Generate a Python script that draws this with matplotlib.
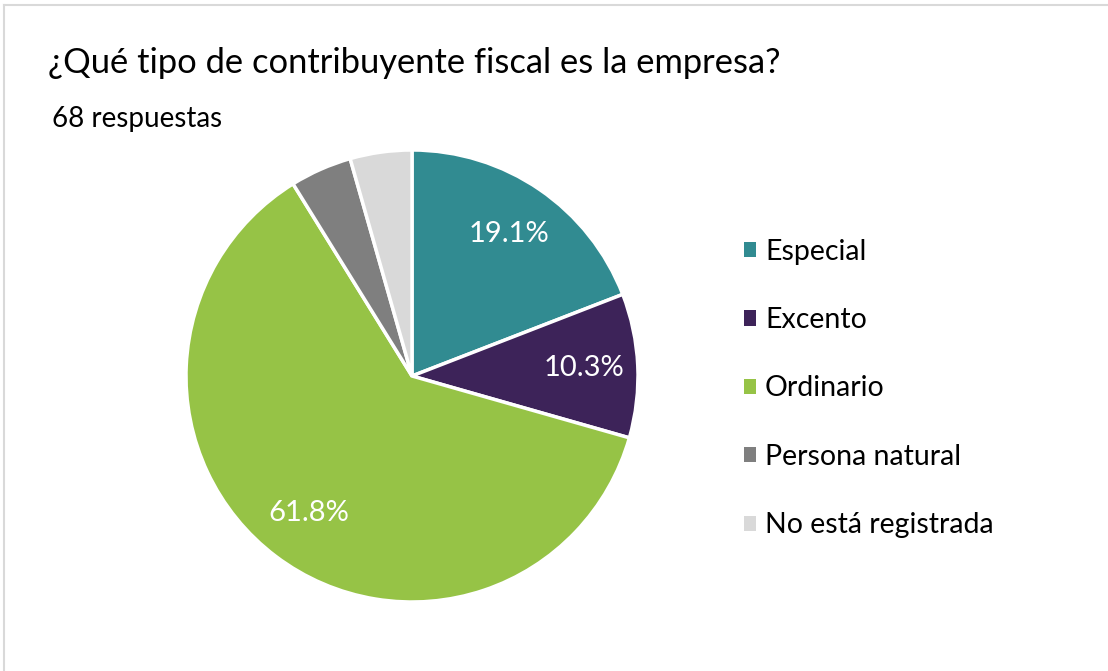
import matplotlib.pyplot as plt
from matplotlib.lines import Line2D

categorias = ['Especial', 'Excento', 'Ordinario', 'Persona natural', 'No está registrada']
respuestas = [13, 7, 42, 3, 3]
colores = ['#318B91', '#3D2359', '#96C346', '#7F7F7F', '#D9D9D9']
titulo = '¿Qué tipo de contribuyente fiscal es la empresa?'
subtitulo = '68 respuestas'

plt.rcParams['font.family'] = ['Lato', 'DejaVu Sans']

W, H = 1108, 671
fig = plt.figure(figsize=(W / 100, H / 100), dpi=100)
fig.patch.set_facecolor('white')

# light frame along the top and left edges
fig.add_artist(Line2D([4 / W, 4 / W], [0, 1 - 5 / H], color='#D9D9D9', lw=1.5))
fig.add_artist(Line2D([4 / W, 1], [1 - 5 / H, 1 - 5 / H], color='#D9D9D9', lw=1.5))

cx, cy, r = 412, 376, 226
ax = fig.add_axes([(cx - r) / W, (H - cy - r) / H, 2 * r / W, 2 * r / H])

def fmt(p):
    return f'{p:.1f}%' if p > 5 else ''

wedges, _, autotexts = ax.pie(respuestas, colors=colores, startangle=90, counterclock=False,
                              autopct=fmt, pctdistance=0.76,
                              wedgeprops=dict(edgecolor='white', linewidth=2.5),
                              textprops=dict(color='white', fontsize=21))
ax.set_xlim(-1, 1)
ax.set_ylim(-1, 1)
ax.set_aspect('equal')

fig.text(48 / W, 1 - 63 / H, titulo, fontsize=24.8, va='center', ha='left', color='black')
fig.text(52 / W, 1 - 119 / H, subtitulo, fontsize=20, va='center', ha='left', color='black')

# legend swatches without the white wedge edge
handles = [plt.Rectangle((0, 0), 1, 1, facecolor=c, edgecolor='none') for c in colores]
fig.legend(handles, categorias, loc='upper left', bbox_to_anchor=(718 / W, 1 - 213 / H),
           frameon=False, fontsize=20.5, handlelength=0.45, handleheight=0.45,
           handletextpad=0.3, labelspacing=1.49)

fig.savefig('out.png', dpi=100)
